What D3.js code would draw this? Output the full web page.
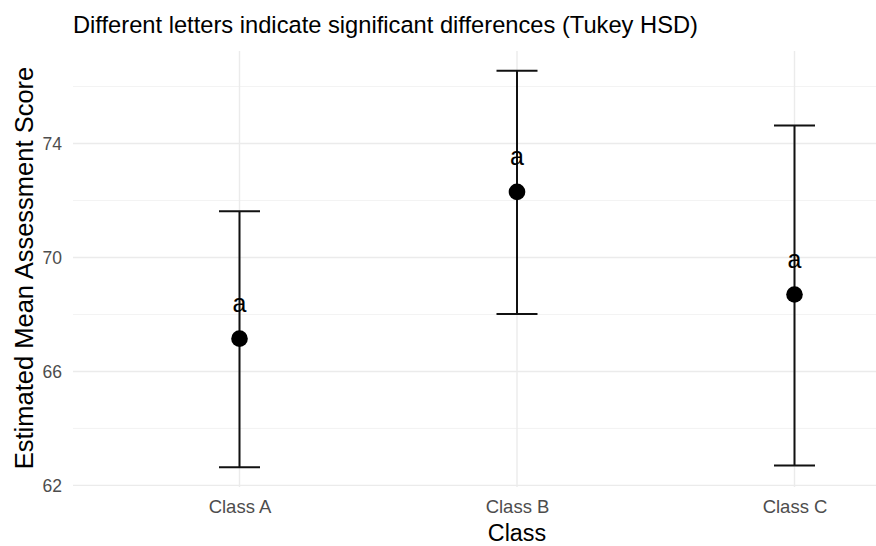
<!DOCTYPE html>
<html>
<head>
<meta charset="utf-8">
<script src="https://cdn.jsdelivr.net/npm/d3@7"></script>
<style>
  body { margin: 0; background: #fff; }
  text { font-family: "Liberation Sans", Arial, sans-serif; }
</style>
</head>
<body>
<div id="chart"></div>
<script>
// Values
const classes = ['Class A', 'Class B', 'Class C'];
const means = [67.15, 72.30, 68.70];
const lowers = [62.64, 68.02, 62.70];
const uppers = [71.62, 76.55, 74.63];
const letters = ['a', 'a', 'a'];
const yTicks = [62, 66, 70, 74];
const yMinorTicks = [64, 68, 72, 76];

const width = 876;
const height = 546;
// panel extends past the right edge, as in the cropped reference
const panel = { left: 73, right: 961, top: 51, bottom: 487 };

const svg = d3.select('#chart').append('svg')
  .attr('width', width)
  .attr('height', height);

// ggplot-style 5% expansion of the data range
const lo = d3.min(lowers);
const hi = d3.max(uppers);
const pad = (hi - lo) * 0.05;

const y = d3.scaleLinear()
  .domain([lo - pad, hi + pad])
  .range([panel.bottom, panel.top]);

const x = d3.scalePoint()
  .domain(classes)
  .range([panel.left, panel.right])
  .padding(0.6);

const grid = svg.append('g');

// minor gridlines
grid.selectAll('.minor')
  .data(yMinorTicks)
  .enter().append('line')
  .attr('x1', panel.left).attr('x2', panel.right)
  .attr('y1', d => y(d)).attr('y2', d => y(d))
  .attr('stroke', '#f3f3f3')
  .attr('stroke-width', 1);

// major gridlines
grid.selectAll('.major')
  .data(yTicks)
  .enter().append('line')
  .attr('x1', panel.left).attr('x2', panel.right)
  .attr('y1', d => y(d)).attr('y2', d => y(d))
  .attr('stroke', '#ebebeb')
  .attr('stroke-width', 1.4);

grid.selectAll('.vgrid')
  .data(classes)
  .enter().append('line')
  .attr('x1', d => x(d)).attr('x2', d => x(d))
  .attr('y1', panel.top).attr('y2', panel.bottom)
  .attr('stroke', '#ebebeb')
  .attr('stroke-width', 1.4);

// axes, text only (theme_minimal has no axis lines)
const yAxis = svg.append('g')
  .attr('transform', `translate(${panel.left},0)`)
  .call(d3.axisLeft(y).tickValues(yTicks).tickSize(0).tickPadding(11));
yAxis.select('.domain').remove();
yAxis.selectAll('text')
  .attr('fill', '#4d4d4d')
  .style('font-size', '17.5px')
  .attr('dy', '0.34em');

const xAxis = svg.append('g')
  .attr('transform', `translate(0,${panel.bottom})`)
  .call(d3.axisBottom(x).tickSize(0).tickPadding(13));
xAxis.select('.domain').remove();
xAxis.selectAll('text')
  .attr('fill', '#4d4d4d')
  .style('font-size', '18.5px');

const rows = classes.map((c, i) => ({
  cls: c, mean: means[i], lower: lowers[i], upper: uppers[i], letter: letters[i],
}));

const capHalf = 20.5;
const marks = svg.append('g');

// error bars
marks.selectAll('.bar')
  .data(rows)
  .enter().append('line')
  .attr('x1', d => x(d.cls)).attr('x2', d => x(d.cls))
  .attr('y1', d => y(d.lower)).attr('y2', d => y(d.upper))
  .attr('stroke', '#111')
  .attr('stroke-width', 2);

['lower', 'upper'].forEach(key => {
  marks.selectAll(`.cap-${key}`)
    .data(rows)
    .enter().append('line')
    .attr('x1', d => x(d.cls) - capHalf).attr('x2', d => x(d.cls) + capHalf)
    .attr('y1', d => y(d[key])).attr('y2', d => y(d[key]))
    .attr('stroke', '#111')
    .attr('stroke-width', 2);
});

// points
marks.selectAll('circle')
  .data(rows)
  .enter().append('circle')
  .attr('cx', d => x(d.cls))
  .attr('cy', d => y(d.mean))
  .attr('r', 8.3)
  .attr('fill', '#000');

// group letters, nudged above the point
marks.selectAll('.letter')
  .data(rows)
  .enter().append('text')
  .attr('x', d => x(d.cls))
  .attr('y', d => y(d.mean) - 27)
  .attr('text-anchor', 'middle')
  .style('font-size', '25px')
  .attr('fill', '#000')
  .text(d => d.letter);

// titles
svg.append('text')
  .attr('x', panel.left)
  .attr('y', 33)
  .style('font-size', '23.7px')
  .attr('fill', '#000')
  .text('Different letters indicate significant differences (Tukey HSD)');

svg.append('text')
  .attr('x', (panel.left + panel.right) / 2)
  .attr('y', 541)
  .attr('text-anchor', 'middle')
  .style('font-size', '23.3px')
  .attr('fill', '#000')
  .text('Class');

svg.append('text')
  .attr('transform', `translate(33,${(panel.top + panel.bottom) / 2 - 1}) rotate(-90)`)
  .attr('text-anchor', 'middle')
  .style('font-size', '25.5px')
  .attr('fill', '#000')
  .text('Estimated Mean Assessment Score');
</script>
</body>
</html>
